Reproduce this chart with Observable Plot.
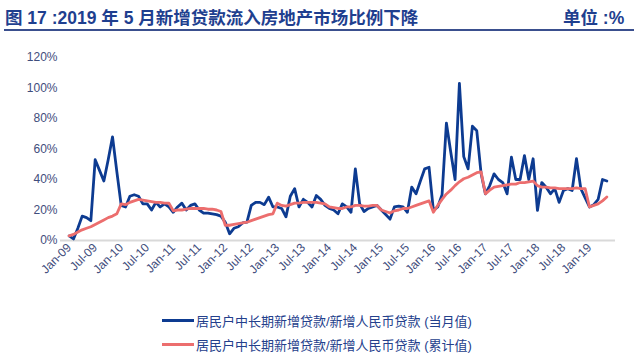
<!DOCTYPE html>
<html><head><meta charset="utf-8">
<script src="https://cdn.jsdelivr.net/npm/d3@7"></script>
<script src="https://cdn.jsdelivr.net/npm/@observablehq/plot@0.6"></script>
<style>
body{margin:0;width:640px;height:362px;background:#fff;overflow:hidden;position:relative;font-family:"Liberation Sans",Arial,"Noto Sans CJK SC",sans-serif}
#title{position:absolute;left:4px;top:0;width:630px;height:29px;border-bottom:2px solid #3a4f8e}
#title .t{position:absolute;left:1px;top:4px;font-size:17.5px;font-weight:bold;color:#1f3f8f;white-space:nowrap;font-family:"Liberation Sans",Arial,"Noto Sans CJK SC",sans-serif}
#title .u{position:absolute;left:559px;top:4px;font-size:17.5px;font-weight:bold;color:#1f3f8f;white-space:nowrap}
#chart{position:absolute;left:0;top:32px}
#legend{position:absolute;left:162px;top:308px;font-size:13px;color:#24408c;font-family:"Liberation Sans",Arial,"Noto Sans CJK SC",sans-serif}
.row{display:flex;align-items:center;height:24px;white-space:nowrap}
.sw{display:inline-block;width:32px;height:3px;margin-right:2px}
</style></head>
<body>
<div id="title"><span class="t">图 17 :2019 年 5 月新增贷款流入房地产市场比例下降</span><span class="u">单位 :%</span></div>
<div id="chart"></div>
<div id="legend"></div>
<script>
const tickLabels = ["Jan-09","Jul-09","Jan-10","Jul-10","Jan-11","Jul-11","Jan-12","Jul-12","Jan-13","Jul-13","Jan-14","Jul-14","Jan-15","Jul-15","Jan-16","Jul-16","Jan-17","Jul-17","Jan-18","Jul-18","Jan-19"];
const yTicks = [0,20,40,60,80,100,120];
const seriesNames = ["居民户中长期新增贷款/新增人民币贷款 (当月值)","居民户中长期新增贷款/新增人民币贷款 (累计值)"];
const seriesColors = ["#0d3b91","#ec6e6e"];
// monthly values Jan-09 .. May-19 (%)
const monthly = [
3,1,8,16,15,13,53,46,39,53,68,45,
23,22,29,30,29,24,24,20,25,22,24,22,
18.5,22,24.5,20,23,24,20,18,18,17.5,17,16,
12,4.4,8,9,11.5,12,23,25,25,23.5,28.4,22,
22,21,15.5,29,34,22,27,25,22,29.5,27,23,
21,20,17.5,24,22,18.5,47,24,19,21,22,23,
20,17,14,22,22.5,22,18.5,35,30.6,39,47,48,
19.7,22,30,77,58,40,103,55,47,75,72,44,
30.6,36,43.7,40,38,30.6,54.6,40,40,55.7,40,53.6,
19.7,38,35,30.6,34,25,32.8,34,32.8,53.6,34,28,
22,23.5,27,40,39];
const cumulative = [
3,4,5.5,7,8,9,10.5,12,13.5,15,16,17.5,
24,23.5,25,26,27,26.5,26,25.5,25,25,24.5,24.5,
19.5,20,20,20.5,21,21,21,21,20.5,20.5,20,19,
10,10,10.5,11,11.5,12,13,14,15,16,17,17.5,
24.5,23,22.5,23.5,24.5,24.5,25,25,25,25,24.5,24,
22,21.5,21,21,22,22,23,23,22.5,22.5,23,23,
20,19,18,19.5,20,21,21,22,23,24,25,26,
18.5,23,27,30.5,33,36,38.5,40.5,41.5,43,44.5,45,
30.6,33,35,35.5,36,36.5,37,37,38,38,38.5,39,
36,35,35,34.5,34.5,34,34,34,34,34.5,34,34,
22,23,24,26,28.5];

const tickIdx = tickLabels.map((_, k) => k * 6);
const chart = Plot.plot({
  width: 640, height: 268,
  marginLeft: 60, marginRight: 25, marginTop: 25, marginBottom: 60,
  style: {fontSize: "12px", color: "#3f4d7c", fontFamily: '"Liberation Sans", Arial, sans-serif', background: "transparent"},
  x: {domain: [-2, 126], ticks: tickIdx, tickFormat: i => tickLabels[Math.round(i / 6)], tickRotate: -45, tickSize: 0, tickPadding: 5, label: null},
  y: {domain: [0, 120], ticks: yTicks, tickFormat: d => d + "%", tickSize: 0, tickPadding: 3, label: null},
  marks: [
    Plot.ruleY([0], {stroke: "#d9d9d9", strokeWidth: 2}),
    Plot.lineY(monthly, {x: (d, i) => i, y: d => d, stroke: seriesColors[0], strokeWidth: 2.8, strokeLinejoin: "round"}),
    Plot.lineY(cumulative, {x: (d, i) => i, y: d => d, stroke: seriesColors[1], strokeWidth: 2.8, strokeLinejoin: "round"})
  ]
});
document.getElementById("chart").appendChild(chart);
const lg = document.getElementById("legend");
seriesNames.forEach((n, k) => {
  const r = document.createElement("div"); r.className = "row";
  const s = document.createElement("span"); s.className = "sw"; s.style.background = seriesColors[k];
  const t = document.createElement("span"); t.textContent = n;
  r.appendChild(s); r.appendChild(t); lg.appendChild(r);
});
</script>
</body></html>
